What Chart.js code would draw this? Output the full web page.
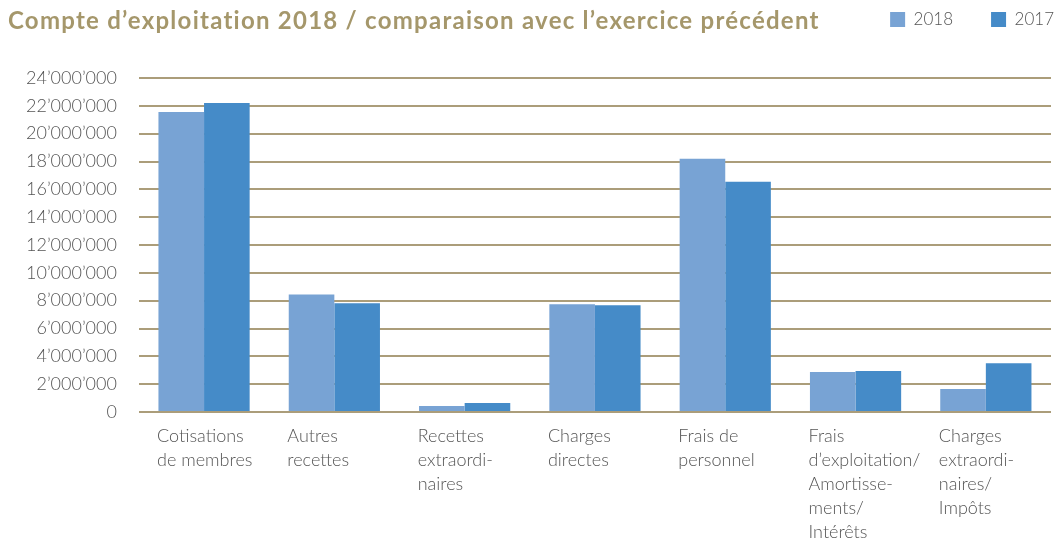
<!DOCTYPE html>
<html>
<head>
<meta charset="utf-8">
<script src="https://cdn.jsdelivr.net/npm/chart.js@4/dist/chart.umd.min.js"></script>
<style>
  html, body { margin: 0; padding: 0; background: #fff; }
  #wrap { position: relative; width: 1062px; height: 540px; }
  #title {
    position: absolute; left: 8px; top: 5px;
    font-family: "Lato", "Open Sans", sans-serif; font-weight: 700;
    font-size: 24px; letter-spacing: 1.25px; color: #a5976b; white-space: nowrap;
  }
</style>
</head>
<body>
<div id="wrap">
  <div id="title">Compte d’exploitation 2018 / comparaison avec l’exercice précédent</div>
  <canvas id="chart"></canvas>
</div>
<script>
const categories = [
  ["Cotisations", "de membres"],
  ["Autres", "recettes"],
  ["Recettes", "extraordi-", "naires"],
  ["Charges", "directes"],
  ["Frais de", "personnel"],
  ["Frais", "d’exploitation/", "Amortisse-", "ments/", "Intérêts"],
  ["Charges", "extraordi-", "naires/", "Impôts"],
];
const values2018 = [21560000, 8450000, 430000, 7740000, 18200000, 2870000, 1650000];
const values2017 = [22210000, 7810000, 640000, 7670000, 16550000, 2940000, 3510000];
const seriesNames = ["2018", "2017"];

const fmt = (v) => String(v).replace(/\B(?=(\d{3})+(?!\d))/g, "’");

// put the legend on the title row, leaving the plot where it is
const legendShift = {
  id: "legendShift",
  afterLayout(chart) {
    const lg = chart.legend;
    if (!lg) return;
    lg.top -= 40;
    lg.bottom -= 40;
    lg.left += 41;
    lg.right += 41;
  },
};

new Chart(document.getElementById("chart"), {
  type: "bar",
  data: {
    labels: categories,
    datasets: [
      {
        label: seriesNames[0],
        data: values2018,
        backgroundColor: "#78a3d4",
        categoryPercentage: 0.7,
        barPercentage: 1,
      },
      {
        label: seriesNames[1],
        data: values2017,
        backgroundColor: "#458bc8",
        categoryPercentage: 0.7,
        barPercentage: 1,
      },
    ],
  },
  plugins: [legendShift],
  options: {
    responsive: true,
    maintainAspectRatio: false,
    animation: false,
    layout: { padding: { left: 4, right: 11, top: 13, bottom: -16 } },
    plugins: {
      legend: {
        display: true,
        position: "top",
        align: "end",
        labels: {
          boxWidth: 15,
          boxHeight: 15,
          padding: 38,
          color: "#555",
          font: { family: "Lato", size: 17, weight: 300 },
        },
      },
      tooltip: { enabled: false },
    },
    scales: {
      x: {
        grid: { display: false, drawTicks: false },
        border: { display: false },
        afterFit: (scale) => {
          scale.paddingLeft = 0;
          scale.paddingRight = 0;
        },
        ticks: {
          color: "#555",
          align: "start",
          labelOffset: -47,
          padding: 12,
          autoSkip: false,
          maxRotation: 0,
          font: { family: "Lato", size: 18, weight: 300, lineHeight: "24px" },
        },
      },
      y: {
        min: 0,
        max: 24000000,
        border: { display: false },
        grid: { color: "#ab9d7a", lineWidth: 2, drawTicks: false },
        ticks: {
          stepSize: 2000000,
          color: "#555",
          padding: 22,
          callback: (value) => fmt(value),
          font: { family: "Lato", size: 18, weight: 300 },
        },
      },
    },
  },
});
</script>
</body>
</html>
